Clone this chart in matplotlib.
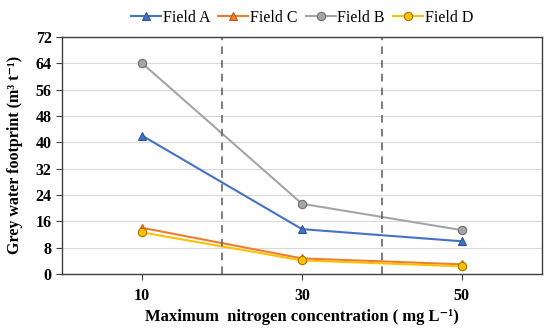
import matplotlib.pyplot as plt
import numpy as np

plt.rcParams['font.family'] = ['Liberation Serif', 'DejaVu Serif']

concentrations = ['10', '30', '50']
field_a = [42.0, 13.6, 9.9]
field_c = [14.0, 4.7, 2.9]
field_b = [64.0, 21.3, 13.3]
field_d = [12.6, 4.1, 2.3]

x = np.arange(len(concentrations))

fig = plt.figure(figsize=(5.5, 3.32), dpi=100)
ax = fig.add_axes([0.113, 0.175, 0.872, 0.714])

series = [
    ('Field A', field_a, '#4472C4', '^', '#2F5597'),
    ('Field C', field_c, '#ED7D31', '^', '#C55A11'),
    ('Field B', field_b, '#A5A5A5', 'o', '#6F6F6F'),
    ('Field D', field_d, '#FFC000', 'o', '#A07800'),
]
for name, vals, color, marker, edge in series:
    ax.plot(x, vals, color=color, lw=1.5, marker=marker, ms=6,
            markerfacecolor=color, markeredgecolor=edge, markeredgewidth=0.8,
            label=name)

# dashed separators between categories
for b in [0.5, 1.5]:
    ax.axvline(b, color='#595959', lw=1.1, ls=(0, (5, 4)))

ax.set_xlim(-0.5, 2.5)
ax.set_ylim(0, 72)
ax.set_yticks(np.arange(0, 73, 8))
ax.set_xticks(x)
ax.set_xticklabels(concentrations)
ax.yaxis.grid(True, color='#D9D9D9', lw=0.8)
ax.set_axisbelow(True)

for s in ax.spines.values():
    s.set_color('#404040')
    s.set_linewidth(1.0)
ax.tick_params(axis='both', colors='#404040', length=4, width=0.8,
               labelcolor='black', labelsize=11.5)
for lab in ax.get_xticklabels() + ax.get_yticklabels():
    lab.set_fontweight('bold')
ax.tick_params(axis='x', pad=6)

ax.set_xlabel('Maximum  nitrogen concentration ( mg L\u207b\u00b9)',
              fontsize=12, fontweight='bold', labelpad=4)
ax.set_ylabel('Grey water footprint (m\u00b3 t\u207b\u00b9)',
              fontsize=11.5, fontweight='bold', labelpad=9)

ax.legend(loc='lower center', bbox_to_anchor=(0.5, 1.0), ncol=4,
          frameon=False, fontsize=11.5, handlelength=1.9, handletextpad=0.1,
          columnspacing=0.5, borderaxespad=0.3)

fig.savefig('out.png', dpi=100)
